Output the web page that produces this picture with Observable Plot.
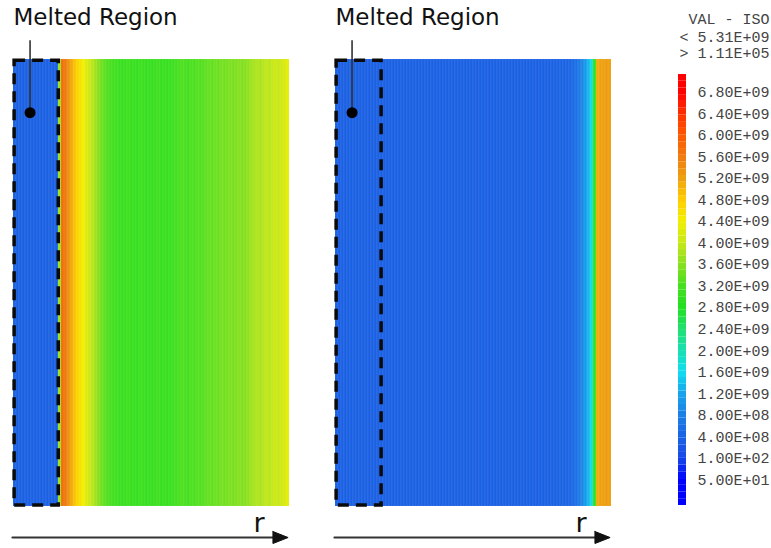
<!DOCTYPE html>
<html>
<head>
<meta charset="utf-8">
<script src="https://cdn.jsdelivr.net/npm/d3@7"></script>
<script src="https://cdn.jsdelivr.net/npm/@observablehq/plot@0.6"></script>
<style>
  html, body { margin: 0; padding: 0; background: #fff; }
  #wrap { position: relative; width: 771px; height: 548px; overflow: hidden; }
  #wrap > div { position: absolute; top: 0; }
  svg { display: block; }
</style>
</head>
<body>
<div id="wrap">
  <div id="p1" style="left:0px"></div>
  <div id="p2" style="left:322px"></div>
  <div id="leg" style="left:660px"></div>
</div>
<script>
// ---- Data (stress values in GPa, one per radial stripe, r from 0 to 1) ----
const leftValues = [
  0.38,0.36,0.39,0.37,0.38,0.36,0.39,0.37,0.38,0.37,0.39,0.36,0.38,0.37,0.39,
  3.7,5.75,5.6,5.35,5.1,4.9,4.7,4.55,4.4,4.2,4.05,3.9,3.75,3.6,3.45,3.35,3.25,3.2,3.15,
  3.1,3.05,3.0,3.05,3.1,3.0,3.05,3.0,3.1,3.05,3.0,3.05,3.0,3.05,3.1,3.0,3.05,3.0,3.05,3.1,
  3.15,3.2,3.25,3.2,3.15,3.25,3.2,3.3,3.25,3.3,
  3.35,3.4,3.35,3.45,3.4,3.5,3.45,3.5,3.55,3.5,3.55,3.6,3.55,3.6,3.65,
  3.75,3.8,3.85,3.8,3.9,3.95,3.9,4.0,4.05,4.0,4.1,4.15,4.3
];
const rightValues = [
  0.38,0.36,0.39,0.37,0.38,0.37,0.39,0.36,0.38,0.37,
  0.38,0.36,0.39,0.37,0.38,0.37,0.39,0.36,0.38,0.37,
  0.38,0.36,0.39,0.37,0.38,0.37,0.39,0.36,0.38,0.37,
  0.38,0.36,0.39,0.37,0.38,0.37,0.39,0.36,0.38,0.37,
  0.38,0.36,0.39,0.37,0.38,0.37,0.39,0.36,0.38,0.37,
  0.38,0.36,0.39,0.37,0.38,0.37,0.39,0.36,0.38,0.37,
  0.38,0.36,0.39,0.37,0.38,0.37,0.39,0.36,0.38,0.37,
  0.38,
  0.39,0.40,0.39,0.41,0.42,0.41,0.43,0.45,
  0.5,0.6,0.75,0.9,1.1,1.35,1.7,3.0,5.1,5.2,5.2,5.25,5.2
];
// melted region outer radius (fraction of r) for each panel
const meltedRadius = [0.165, 0.168];

// ---- Legend (iso levels, bottom to top) ----
const levelLabels = ["5.00E+01","1.00E+02","4.00E+08","8.00E+08","1.20E+09","1.60E+09","2.00E+09",
  "2.40E+09","2.80E+09","3.20E+09","3.60E+09","4.00E+09","4.40E+09","4.80E+09","5.20E+09",
  "5.60E+09","6.00E+09","6.40E+09","6.80E+09"];
const levelValuesGPa = [5e-8,1e-7,0.4,0.8,1.2,1.6,2.0,2.4,2.8,3.2,3.6,4.0,4.4,4.8,5.2,5.6,6.0,6.4,6.8];
const levelColors = ["#0000ff","#1848e8","#1a62e4","#1c80e6","#18a4ec","#10dcf0","#18e0b0",
  "#20e070","#22e020","#48e020","#88e020","#c8e818","#f0f000","#ffcc00","#eea010",
  "#f07a10","#ff5800","#ff3000","#ff0000"];
const legendHeader = ["VAL - ISO", "< 5.31E+09", "> 1.11E+05"];
const panelTitle = "Melted Region";
const axisLabel = "r";

// ---- Build tables ----
function stripes(values) {
  const n = values.length;
  return values.map((v, i) => ({r1: i / n, r2: (i + 1) / n, v}));
}

function panel(values, melt) {
  const arrowY = -0.0694, head = 0.0134;
  return Plot.plot({
    width: 320, height: 548,
    marginLeft: 13, marginRight: 31, marginTop: 59, marginBottom: 42,
    x: {domain: [0, 1], axis: null},
    y: {domain: [0, 1], axis: null},
    color: {type: "linear", domain: levelValuesGPa, range: levelColors, clamp: true},
    style: {background: "transparent"},
    marks: [
      Plot.rect(stripes(values), {x1: "r1", x2: "r2", y1: 0, y2: 1, fill: "v",
        stroke: "white", strokeOpacity: 0.13, strokeWidth: 0.6}),
      Plot.rect([melt], {x1: 0.004, x2: d => d - 0.001, y1: 0.002, y2: 0.997,
        fill: "none", stroke: "#0a0a0a", strokeWidth: 3.5, strokeDasharray: "11,7"}),
      Plot.link([melt], {x1: 0.06, x2: 0.06, y1: 0.881, y2: 1.043, stroke: "#333", strokeWidth: 1.6}),
      Plot.dot([melt], {x: 0.06, y: 0.881, r: 5.5, fill: "#000", stroke: "none"}),
      Plot.text([panelTitle], {frameAnchor: "top-left", dy: -35, textAnchor: "start", lineAnchor: "bottom",
        fontSize: 23, fontFamily: "DejaVu Sans", fill: "#111"}),
      Plot.text([axisLabel], {frameAnchor: "bottom-right", dx: -25, dy: 25, textAnchor: "end", lineAnchor: "bottom",
        fontSize: 27, fontFamily: "DejaVu Sans", fill: "#111"}),
      Plot.line([{x: -0.004, y: arrowY}, {x: 0.945, y: arrowY}], {x: "x", y: "y", stroke: "#333", strokeWidth: 2}),
      Plot.line([{x: 0.94, y: arrowY + head}, {x: 0.995, y: arrowY}, {x: 0.94, y: arrowY - head}, {x: 0.94, y: arrowY + head}],
        {x: "x", y: "y", fill: "#111", stroke: "#111", strokeWidth: 1})
    ]
  });
}

document.getElementById("p1").append(panel(leftValues, meltedRadius[0]));
document.getElementById("p2").append(panel(rightValues, meltedRadius[1]));

// ---- Colour bar ----
const levelIdx = levelLabels.map((_, i) => i);
const barLo = -1.18, barHi = 18.82, nBands = 64;
const bands = d3.range(nBands).map(k => {
  const a = barLo + (k * (barHi - barLo)) / nBands;
  const b = barLo + ((k + 1) * (barHi - barLo)) / nBands;
  return {a, b, m: (a + b) / 2};
});
const headerOffsets = [-51, -33, -17];
const monoText = {textAnchor: "end", lineAnchor: "bottom", fontSize: 15, fontFamily: "Liberation Mono", fill: "#444"};
const legend = Plot.plot({
  width: 111, height: 548,
  marginLeft: 18, marginRight: 85, marginTop: 74, marginBottom: 43,
  x: {domain: [0, 1], axis: null},
  y: {domain: [barLo, barHi], axis: null},
  color: {type: "linear", domain: levelIdx, range: levelColors, clamp: true},
  style: {background: "transparent"},
  marks: [
    Plot.rect(bands, {x1: 0, x2: 1, y1: "a", y2: "b", fill: "m"}),
    Plot.text(levelLabels, {x: 1, y: (d, i) => levelIdx[i], dx: 11, textAnchor: "start", lineAnchor: "middle",
      fontSize: 15, fontFamily: "Liberation Mono", fill: "#444"}),
    ...legendHeader.map((h, i) => Plot.text([h], {frameAnchor: "top-left", dx: 91, dy: headerOffsets[i], ...monoText}))
  ]
});
document.getElementById("leg").append(legend);
</script>
</body>
</html>
